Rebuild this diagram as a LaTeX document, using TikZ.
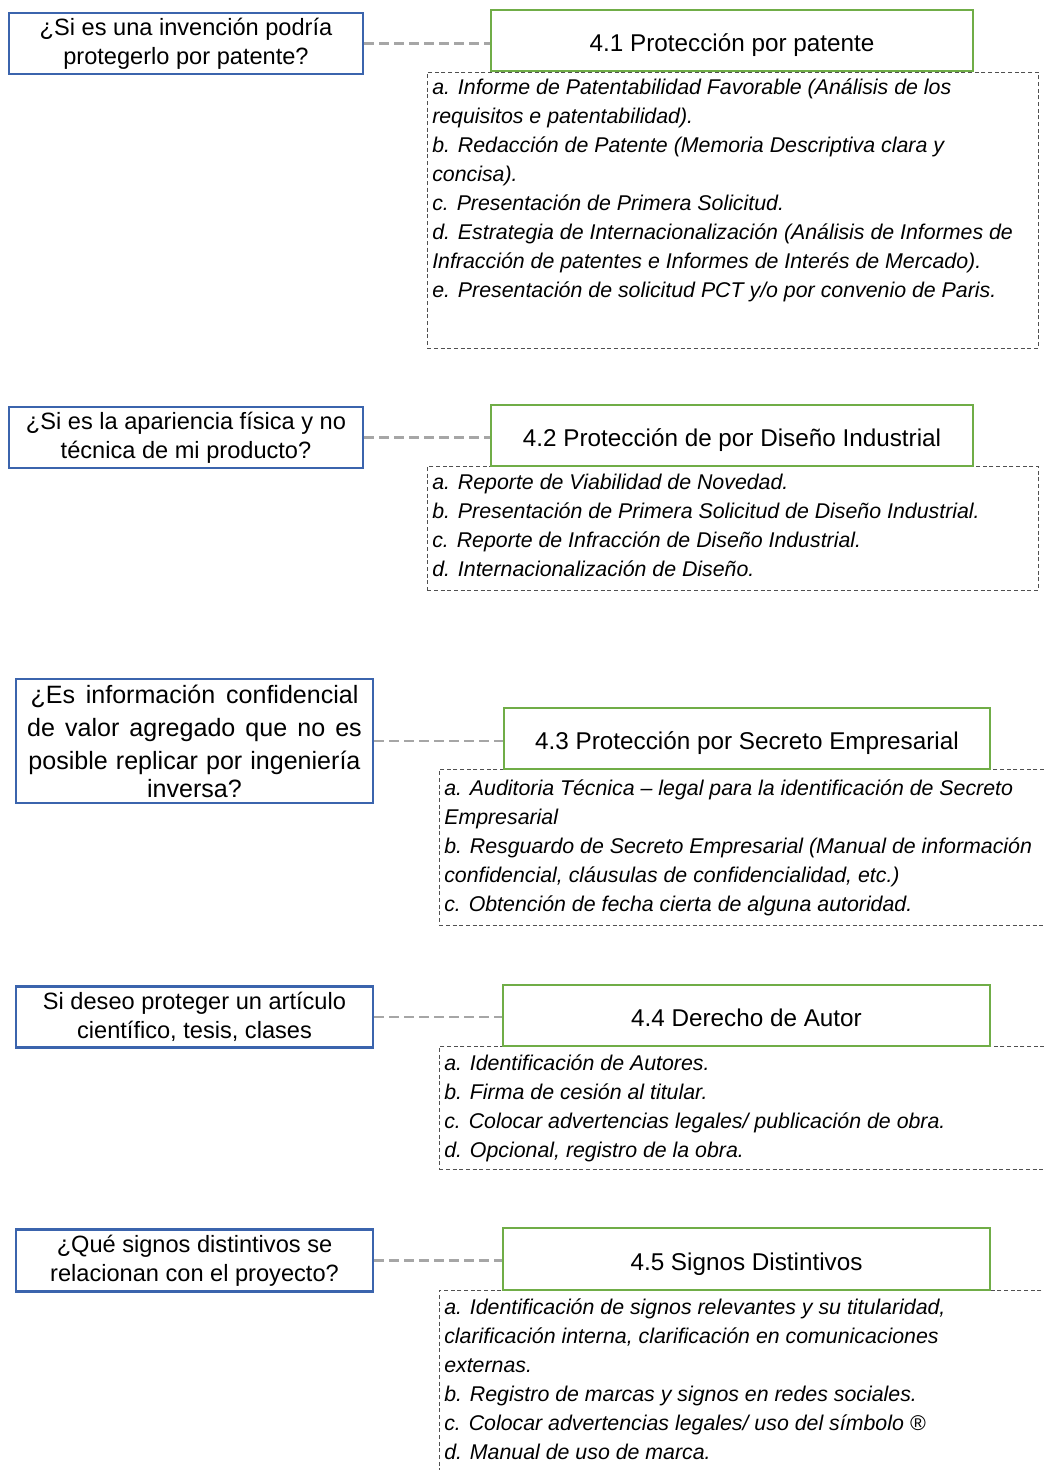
\documentclass[tikz,border=0pt]{standalone}
\usepackage{fontspec}
\setmainfont{Liberation Sans}
\definecolor{qblue}{HTML}{3B64AD}
\definecolor{tgreen}{HTML}{70AD47}
\definecolor{linkgray}{HTML}{A6A6A6}
\definecolor{listgray}{HTML}{505050}

\begin{document}
\begin{tikzpicture}[x=0.75pt,y=-0.75pt,
    question/.style={draw=qblue,line width=2.2pt,align=center,inner sep=0pt,
      minimum width=265.5pt,minimum height=45.75pt,
      font=\fontsize{17.7}{21.75}\selectfont},
    topic/.style={draw=tgreen,line width=2.2pt,inner sep=0pt,
      minimum width=361.5pt,minimum height=45.75pt,text height=20.5pt,text depth=3.8pt,
      font=\fontsize{18.2}{20}\selectfont},
    listbox/.style={draw=listgray,densely dashed,line width=0.6pt,anchor=north west,
      inner sep=0pt,minimum width=458.25pt},
    items/.style={anchor=north west,inner sep=0pt,align=left,
      font=\itshape\fontsize{16}{21.75}\selectfont},
    link/.style={draw=linkgray,line width=2.2pt,dash pattern=on 7.5pt off 3.75pt}]
  \useasboundingbox (0,0) rectangle (1044,1470);
  \clip (0,0) rectangle (1044,1470);

  \node[question] (q1) at (186,43.5) {¿Si es una invención podría\\protegerlo por patente?};
  \node[listbox,minimum height=207pt] (l1) at (427,72) {};
  \node[items] (l1txt) at (432,79) {a. Informe de Patentabilidad Favorable (Análisis de los\\
    requisitos e patentabilidad).\\
    b. Redacción de Patente (Memoria Descriptiva clara y\\
    concisa).\\
    c. Presentación de Primera Solicitud.\\
    d. Estrategia de Internacionalización (Análisis de Informes de\\
    Infracción de patentes e Informes de Interés de Mercado).\\
    e. Presentación de solicitud PCT y/o por convenio de Paris.};
  \node[topic] (t1) at (732,40.5) {4.1 Protección por patente};

  \node[question] (q2) at (186,437.5) {¿Si es la apariencia física y no\\técnica de mi producto?};
  \node[listbox,minimum height=93pt] (l2) at (427,466) {};
  \node[items] (l2txt) at (432,474) {a. Reporte de Viabilidad de Novedad.\\
    b. Presentación de Primera Solicitud de Diseño Industrial.\\
    c. Reporte de Infracción de Diseño Industrial.\\
    d. Internacionalización de Diseño.};
  \node[topic] (t2) at (732,435.5) {4.2 Protección de por Diseño Industrial};

  \node[question,minimum width=267.75pt,minimum height=93pt,
    font=\fontsize{18.8}{24.75}\selectfont] (q3) at (194.5,741)
    {\makebox[246pt][s]{¿Es información confidencial}\\
     \makebox[251pt][s]{de valor agregado que no es}\\
     \makebox[249pt][s]{posible replicar por ingeniería}\\[-3.75pt]
     inversa?};
  \node[listbox,minimum height=117pt] (l3) at (439,769) {};
  \node[items] (l3txt) at (444,780)
    {a. Auditoria Técnica -- legal para la identificación de Secreto\\
    Empresarial\\
    b. Resguardo de Secreto Empresarial (Manual de información\\
    confidencial, cláusulas de confidencialidad, etc.)\\
    c. Obtención de fecha cierta de alguna autoridad.};
  \node[topic,minimum width=364.5pt] (t3) at (747,738.5) {4.3 Protección por Secreto Empresarial};

  \node[question,minimum width=267.75pt] (q4) at (194.5,1017) {Si deseo proteger un artículo\\científico, tesis, clases};
  \node[listbox,minimum height=92.25pt] (l4) at (439,1046) {};
  \node[items] (l4txt) at (444,1055) {a. Identificación de Autores.\\
    b. Firma de cesión al titular.\\
    c. Colocar advertencias legales/ publicación de obra.\\
    d. Opcional, registro de la obra.};
  \node[topic,minimum width=365.25pt] (t4) at (746.5,1015.5) {4.4 Derecho de Autor};

  \node[question,minimum width=267.75pt,minimum height=46.5pt] (q5) at (194.5,1260.5) {¿Qué signos distintivos se\\relacionan con el proyecto?};
  \node[listbox,minimum height=150pt] (l5) at (439,1290) {};
  \node[items] (l5txt) at (444,1299) {a. Identificación de signos relevantes y su titularidad,\\
    clarificación interna, clarificación en comunicaciones\\
    externas.\\
    b. Registro de marcas y signos en redes sociales.\\
    c. Colocar advertencias legales/ uso del símbolo ®\\
    d. Manual de uso de marca.};
  \node[topic,minimum width=365.25pt,minimum height=46.5pt] (t5) at (746.5,1259) {4.5 Signos Distintivos};

  \foreach \i in {1,...,5}
    \draw[link] (q\i.east) -- (q\i.east -| t\i.west);
\end{tikzpicture}
\end{document}
